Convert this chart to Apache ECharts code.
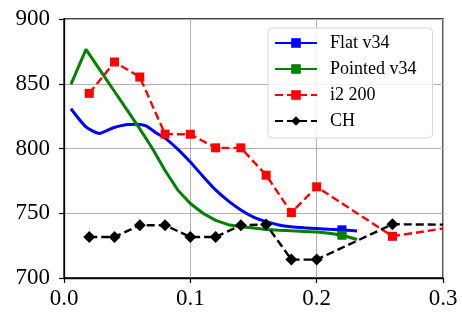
<!DOCTYPE html>
<html>
<head>
<meta charset="utf-8">
<script src="https://cdn.jsdelivr.net/npm/echarts@6/dist/echarts.min.js"></script>
<style>html,body{margin:0;padding:0;background:#fff;}#c{width:462px;height:320px;}</style>
</head>
<body>
<div id="c"></div>
<script>
const seriesNames = ['Flat v34', 'Pointed v34', 'i2 200', 'CH'];
const xTicks = [0, 0.1, 0.2, 0.3];
const yTicks = [700, 750, 800, 850, 900];

const flatX = [0.0055, 0.0174, 0.028, 0.039, 0.05, 0.0575, 0.065, 0.073, 0.08, 0.09, 0.1, 0.11, 0.12, 0.13, 0.14, 0.15, 0.16, 0.17, 0.18, 0.19, 0.2, 0.21, 0.22, 0.232];
const flatY = [830.7, 816.7, 811.6, 816, 818.5, 818.8, 817.5, 812, 808, 799.5, 789.5, 778.5, 768, 759.5, 752.5, 747, 743.5, 741, 739.6, 738.8, 738.2, 737.6, 737.2, 736.3];
const flatMarkerAt = 0.22;

const pointedX = [0.0055, 0.0174, 0.03, 0.04, 0.05, 0.06, 0.07, 0.08, 0.09, 0.1, 0.11, 0.12, 0.13, 0.14, 0.15, 0.16, 0.17, 0.18, 0.19, 0.2, 0.21, 0.22, 0.232];
const pointedY = [849.5, 876.5, 858.4, 844, 829.6, 815.2, 800, 783, 768, 757.5, 750, 744.5, 741.2, 739.6, 738.6, 737.5, 736.9, 736.4, 736, 735.5, 734.5, 733, 729.7];
const pointedMarkerAt = 0.22;

const i2X = [0.02, 0.04, 0.06, 0.08, 0.1, 0.12, 0.14, 0.16, 0.18, 0.2, 0.26, 0.3];
const i2Y = [842.6, 866.8, 855.2, 811.1, 811, 800.5, 800.5, 779.4, 750.5, 770.4, 732.2, 738.2];
const i2Markers = [1, 1, 1, 1, 1, 1, 1, 1, 1, 1, 1, 0];

const chX = [0.02, 0.04, 0.06, 0.08, 0.1, 0.12, 0.14, 0.16, 0.18, 0.2, 0.26, 0.3];
const chY = [731.7, 731.7, 740.7, 740.7, 731.7, 731.7, 740.7, 741.3, 714.2, 714.2, 741.5, 741.2];
const chMarkers = [1, 1, 1, 1, 1, 1, 1, 1, 1, 1, 1, 0];

function build(xs, ys, markerTest) {
  return xs.map((x, i) => {
    const item = { value: [x, ys[i]] };
    if (!markerTest(x, i)) item.symbol = 'none';
    return item;
  });
}

const font = 'Liberation Serif';
const chart = echarts.init(document.getElementById('c'), null, { renderer: 'canvas' });
chart.setOption({
  animation: false,
  backgroundColor: '#fff',
  textStyle: { fontFamily: font },
  grid: { left: 64, right: 19, top: 19, bottom: 42, show: true, borderColor: '#000', borderWidth: 1.3, backgroundColor: 'transparent' },
  legend: {
    orient: 'vertical', left: 268, top: 28,
    padding: [6, 16, 8, 6],
    itemWidth: 42, itemHeight: 12, itemGap: 8,
    backgroundColor: 'rgba(255,255,255,0.85)',
    borderColor: '#d6d6d6', borderWidth: 1, borderRadius: 4,
    textStyle: { fontFamily: font, fontSize: 18, color: '#000', padding: [0, 0, 0, 8] },
    data: seriesNames
  },
  xAxis: {
    type: 'value', min: xTicks[0], max: xTicks[xTicks.length - 1], interval: 0.1,
    axisLine: { show: true, lineStyle: { color: '#000', width: 1.3 } },
    axisTick: { show: true, length: 5, lineStyle: { color: '#000', width: 1.2 } },
    axisLabel: { color: '#000', fontSize: 23, fontFamily: font, margin: 9, formatter: v => v.toFixed(1) },
    splitLine: { show: true, lineStyle: { color: '#b0b0b0', width: 1 } }
  },
  yAxis: {
    type: 'value', min: yTicks[0], max: yTicks[yTicks.length - 1], interval: 50,
    axisLine: { show: true, lineStyle: { color: '#000', width: 1.3 } },
    axisTick: { show: true, length: 5, lineStyle: { color: '#000', width: 1.2 } },
    axisLabel: { color: '#000', fontSize: 23, fontFamily: font, margin: 14 },
    splitLine: { show: true, lineStyle: { color: '#b0b0b0', width: 1 } }
  },
  series: [
    {
      name: seriesNames[0], type: 'line', symbol: 'rect', symbolSize: 9, smooth: 0.2,
      itemStyle: { color: '#0000ff' }, lineStyle: { color: '#0000ff', width: 3 },
      data: build(flatX, flatY, x => x === flatMarkerAt)
    },
    {
      name: seriesNames[1], type: 'line', symbol: 'rect', symbolSize: 9,
      itemStyle: { color: '#008000' }, lineStyle: { color: '#008000', width: 3 },
      data: build(pointedX, pointedY, x => x === pointedMarkerAt)
    },
    {
      name: seriesNames[2], type: 'line', symbol: 'rect', symbolSize: 9,
      itemStyle: { color: '#ff0000' }, lineStyle: { color: '#ff0000', width: 2.4, type: [8, 4] },
      data: build(i2X, i2Y, (x, i) => i2Markers[i] === 1)
    },
    {
      name: seriesNames[3], type: 'line', symbol: 'diamond', symbolSize: 12,
      itemStyle: { color: '#000' }, lineStyle: { color: '#000', width: 2.4, type: [8, 4] },
      data: build(chX, chY, (x, i) => chMarkers[i] === 1)
    }
  ]
});
</script>
</body>
</html>
